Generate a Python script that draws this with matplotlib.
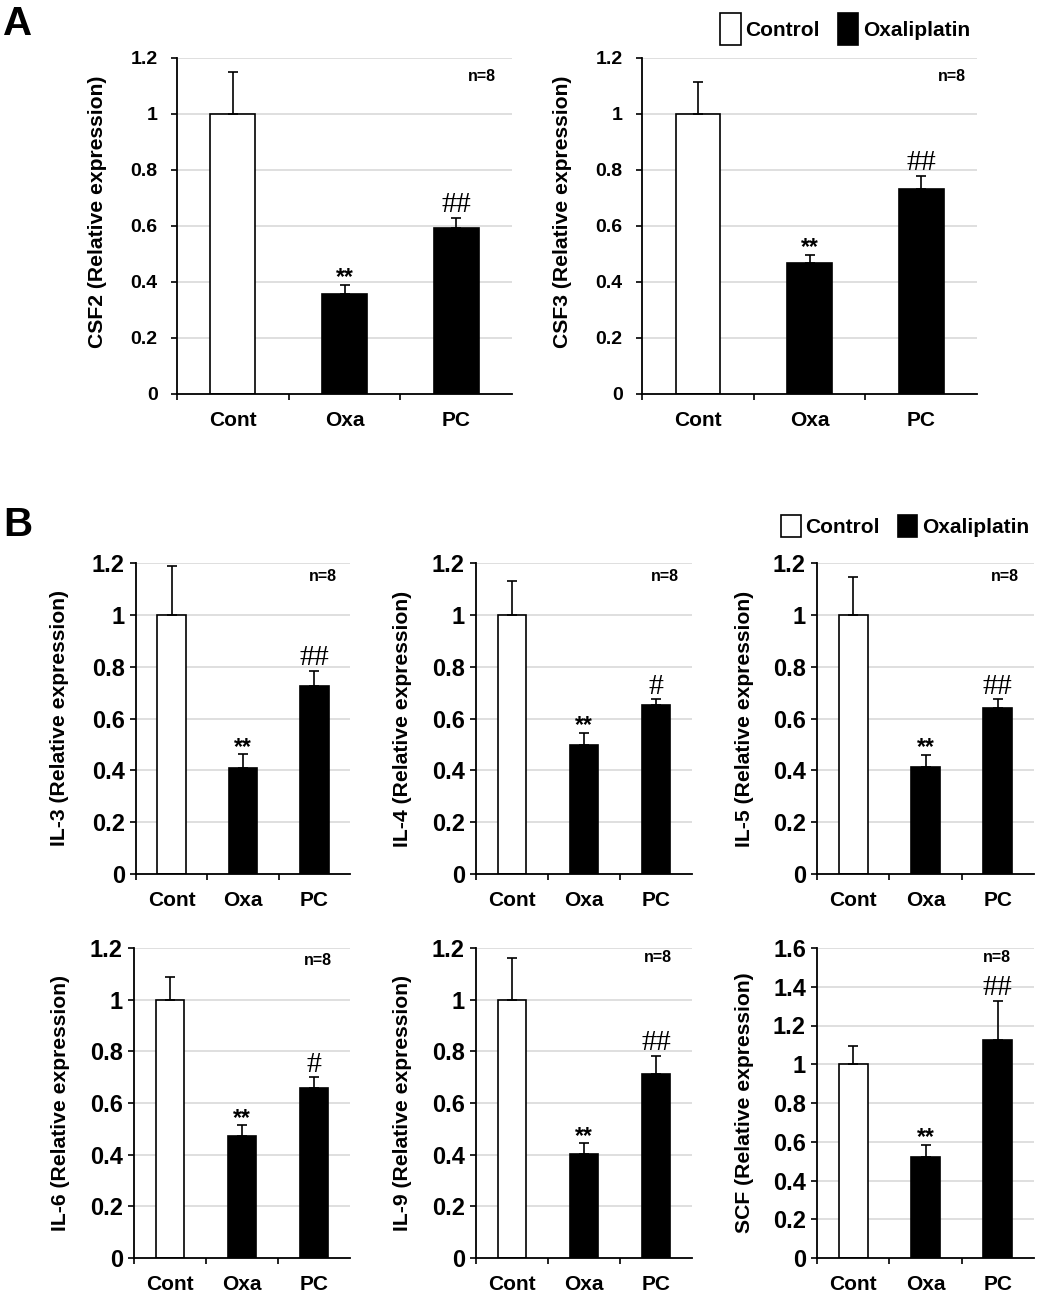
import numpy as np
import matplotlib
matplotlib.use('Agg')
import matplotlib.pyplot as plt
from matplotlib.ticker import FixedLocator

plt.rcParams['font.family'] = ['Liberation Sans', 'DejaVu Sans']

W, H = 1038, 1292

# ---------------- data ----------------
categories = ['Cont', 'Oxa', 'PC']
legend_labels = ['Control', 'Oxaliplatin']
n_text = 'n=8'

csf2_mean = [1.0, 0.357, 0.593]
csf2_err = [0.150, 0.032, 0.037]
csf2_sig = ['', '**', '##']

csf3_mean = [1.0, 0.469, 0.731]
csf3_err = [0.113, 0.028, 0.049]
csf3_sig = ['', '**', '##']

il3_mean = [1.0, 0.409, 0.726]
il3_err = [0.187, 0.053, 0.059]
il3_sig = ['', '**', '##']

il4_mean = [1.0, 0.499, 0.652]
il4_err = [0.129, 0.046, 0.023]
il4_sig = ['', '**', '#']

il5_mean = [1.0, 0.413, 0.642]
il5_err = [0.145, 0.047, 0.033]
il5_sig = ['', '**', '##']

il6_mean = [1.0, 0.472, 0.659]
il6_err = [0.088, 0.042, 0.040]
il6_sig = ['', '**', '#']

il9_mean = [1.0, 0.401, 0.711]
il9_err = [0.161, 0.043, 0.071]
il9_sig = ['', '**', '##']

scf_mean = [1.0, 0.522, 1.126]
scf_err = [0.093, 0.061, 0.202]
scf_sig = ['', '**', '##']

# ---------------- layout ----------------
fig = plt.figure(figsize=(W / 100, H / 100), dpi=100)


def px_rect(l, t, r, b):
    return [l / W, 1 - b / H, (r - l) / W, (b - t) / H]


def fmt(v):
    if abs(v) < 1e-9:
        return '0'
    if abs(v - round(v)) < 1e-9:
        return '%d' % round(v)
    return '%.1f' % v


bar_colors = ['white', 'black', 'black']


def draw(rect, gene, means, errs, sigs, ymax, tick_fs, tick_pad, ylab_dx, ylab_y, n_xy):
    l, t, r, b = rect
    ax = fig.add_axes(px_rect(l, t, r, b))
    x = np.arange(len(categories))
    ax.set_xlim(-0.5, len(categories) - 0.5)
    ax.set_ylim(0, ymax)
    yt = np.round(np.arange(0, ymax + 1e-9, 0.2), 2)
    for y in yt[1:]:
        ax.axhline(y, color='#d6d6d6', lw=1.1, zorder=0)
    bars = ax.bar(x, means, width=0.4, color=bar_colors, edgecolor='black',
                  linewidth=1.2, zorder=2)
    ax.errorbar(x, means, yerr=[np.zeros(len(means)), errs], fmt='none',
                ecolor='black', elinewidth=1.2, capsize=3.6, capthick=1.2, zorder=3)
    for xi, m, e, s in zip(x, means, errs, sigs):
        if not s:
            continue
        if '*' in s:
            ax.annotate(s, (xi, m + e), xytext=(0, 0.5), textcoords='offset points',
                        ha='center', va='baseline', fontsize=16.5, fontweight='bold',
                        zorder=4)
        else:
            ax.annotate(s, (xi, m + e), xytext=(0, 4.0), textcoords='offset points',
                        ha='center', va='baseline', fontsize=21.5,
                        family='Liberation Serif', zorder=4)
    ax.set_yticks(yt)
    ax.set_yticklabels([fmt(v) for v in yt], fontsize=tick_fs, fontweight='bold')
    ax.set_xticks(x)
    ax.set_xticklabels(categories, fontsize=15, fontweight='bold')
    ax.xaxis.set_minor_locator(FixedLocator(np.arange(-0.5, len(categories) - 1, 1.0)))
    ax.tick_params(axis='x', which='major', length=0, pad=12)
    ax.tick_params(axis='x', which='minor', length=4, width=1.2, direction='out')
    ax.tick_params(axis='y', which='major', length=4, width=1.2, direction='out',
                   pad=tick_pad)
    for sp in ['top', 'right']:
        ax.spines[sp].set_visible(False)
    for sp in ['left', 'bottom']:
        ax.spines[sp].set_linewidth(1.3)
    ax.set_ylabel(gene + ' (Relative expression)', fontsize=15.2, fontweight='bold')
    ax.yaxis.label.set_va('center')
    ax.yaxis.set_label_coords(-ylab_dx / (r - l), ylab_y)
    ax.text(n_xy[0], n_xy[1], n_text, transform=ax.transAxes, ha='center',
            va='center', fontsize=11.5, fontweight='bold')
    return ax, bars


axA1, barsA = draw((177, 58, 512, 394), 'CSF2', csf2_mean, csf2_err, csf2_sig, 1.2,
                   14, 10, 79, 0.543, (0.91, 0.944))
axA2, _ = draw((642, 58, 977, 394), 'CSF3', csf3_mean, csf3_err, csf3_sig, 1.2,
               14, 10, 79, 0.543, (0.926, 0.944))
axB1, barsB = draw((136, 563, 350, 874), 'IL-3', il3_mean, il3_err, il3_sig, 1.2,
                   17, 4, 77, 0.5, (0.875, 0.958))
draw((476, 563, 692, 874), 'IL-4', il4_mean, il4_err, il4_sig, 1.2,
     17, 4, 73, 0.5, (0.875, 0.958))
draw((817, 563, 1034, 874), 'IL-5', il5_mean, il5_err, il5_sig, 1.2,
     17, 4, 73, 0.5, (0.866, 0.956))
draw((134, 948, 350, 1258), 'IL-6', il6_mean, il6_err, il6_sig, 1.2,
     17, 4, 73, 0.5, (0.853, 0.959))
draw((476, 948, 692, 1258), 'IL-9', il9_mean, il9_err, il9_sig, 1.2,
     17, 4, 73, 0.5, (0.843, 0.968))
draw((817, 948, 1034, 1258), 'SCF', scf_mean, scf_err, scf_sig, 1.6,
     17, 4, 73, 0.5, (0.828, 0.968))

# legends
fig.legend([barsA[0], barsA[1]], legend_labels, loc='center left',
           bbox_to_anchor=(720 / W, 1 - 29 / H), ncol=2, frameon=False,
           prop={'weight': 'bold', 'size': 15}, handlelength=1.0,
           handleheight=1.95, handletextpad=0.22, columnspacing=0.85,
           borderpad=0, borderaxespad=0)
fig.legend([barsB[0], barsB[1]], legend_labels, loc='center left',
           bbox_to_anchor=(781 / W, 1 - 526 / H), ncol=2, frameon=False,
           prop={'weight': 'bold', 'size': 15}, handlelength=0.95,
           handleheight=1.3, handletextpad=0.22, columnspacing=0.85,
           borderpad=0, borderaxespad=0)

fig.text(3 / W, 1 - 24 / H, 'A', fontsize=29, fontweight='bold', va='center', ha='left')
fig.text(3 / W, 1 - 525 / H, 'B', fontsize=29, fontweight='bold', va='center', ha='left')

fig.savefig('out.png', dpi=100, facecolor='white')
